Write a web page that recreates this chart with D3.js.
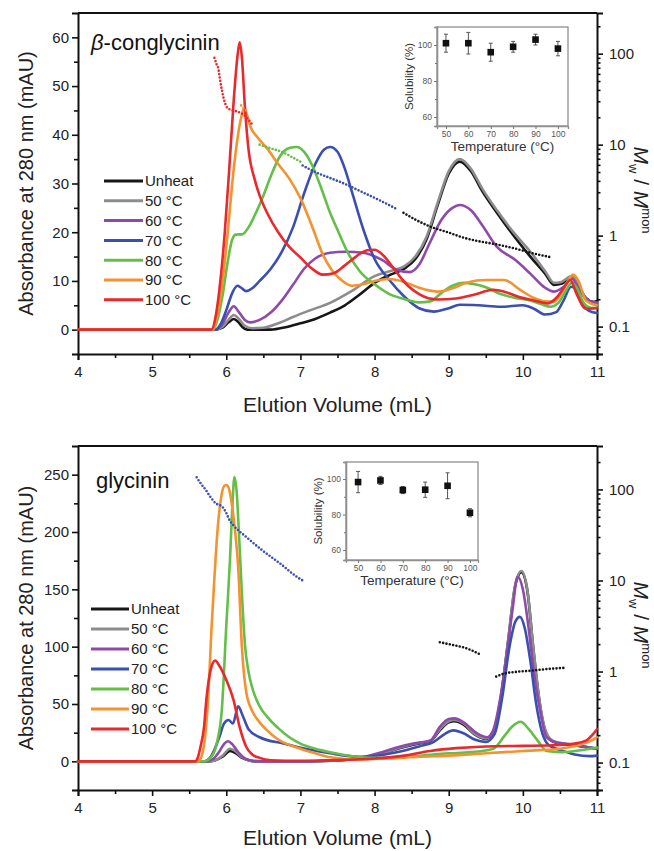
<!DOCTYPE html>
<html><head><meta charset="utf-8">
<script src="https://cdn.jsdelivr.net/npm/d3@7"></script>
<style>
body{margin:0;background:#fff;}
svg{display:block;font-family:"Liberation Sans",Arial,sans-serif;}
</style></head><body>
<svg id="c" width="654" height="851"></svg>
<script>
// ---------- shared ----------
const seriesNames = ["Unheat","50 °C","60 °C","70 °C","80 °C","90 °C","100 °C"];
const seriesColors = ["#161616","#8c8c8c","#8f4aa9","#3b4fb1","#63bf47","#f4922f","#e8292d"];
const xTicks = [4,5,6,7,8,9,10,11];
const xMinorTicks = [4.5,5.5,6.5,7.5,8.5,9.5,10.5];
const rTicks = [0.1,1,10,100];
const inletTemps = [50,60,70,80,90,100];

// ---------- beta-conglycinin (top) ----------
const topUnheat = [[4,0],[5.85,0],[5.95,0.4],[6.03,1.5],[6.1,2.2],[6.16,1.6],[6.22,0.5],[6.28,0],[6.6,0],[6.8,0.5],[7.0,1.3],[7.2,2.2],[7.4,3.5],[7.6,5],[7.8,7.2],[8.0,9.6],[8.2,11.2],[8.4,12.5],[8.55,14.5],[8.7,18.5],[8.85,25.5],[9.0,32],[9.15,34.5],[9.3,32.5],[9.45,28.5],[9.65,24],[9.9,18.8],[10.1,15],[10.3,11.5],[10.42,9.2],[10.52,9.4],[10.66,10.9],[10.75,9],[10.85,6.5],[10.95,5.7],[11,5.9]];
const top50 = [[4,0],[5.85,0],[5.95,0.6],[6.03,2],[6.1,3],[6.17,2.2],[6.25,0.8],[6.35,0.3],[6.5,0.4],[6.7,1.3],[6.9,2.6],[7.1,3.8],[7.4,5.5],[7.7,8],[8.0,11],[8.2,12],[8.4,13],[8.55,15],[8.7,19],[8.85,26],[9.0,32.5],[9.15,35],[9.3,33],[9.45,29],[9.65,24.5],[9.9,19.5],[10.1,16],[10.3,12],[10.42,9.6],[10.52,9.8],[10.66,11],[10.75,9],[10.85,6.5],[10.95,5.5],[11,5.5]];
const top60 = [[4,0],[5.85,0],[5.95,1.2],[6.03,3.5],[6.1,4.8],[6.17,3.6],[6.25,2],[6.32,1.5],[6.45,2],[6.6,3.5],[6.75,6],[6.9,9.2],[7.05,12.5],[7.2,14.6],[7.4,15.8],[7.6,16],[7.85,15.8],[8.1,14.3],[8.3,12.3],[8.48,11.8],[8.6,13.3],[8.75,18],[8.9,22.5],[9.05,25],[9.15,25.6],[9.3,24.5],[9.45,21.5],[9.65,17],[9.9,14.3],[10.1,11.5],[10.3,8.6],[10.42,7.8],[10.55,8.8],[10.66,10.5],[10.75,8.5],[10.85,6.3],[11,5.5]];
const top70 = [[4,0],[5.85,0],[5.92,1],[6.0,4],[6.08,7.5],[6.15,9],[6.2,8.6],[6.27,7.9],[6.35,8.5],[6.45,10],[6.6,12.5],[6.75,16],[6.9,21],[7.05,28],[7.2,34],[7.32,37],[7.4,37.5],[7.5,36.5],[7.6,33],[7.7,28],[7.85,20.5],[8.0,14.5],[8.2,10.2],[8.4,6.8],[8.6,4.4],[8.8,3.7],[9.0,4.4],[9.15,5.1],[9.4,5.0],[9.7,4.7],[10.0,5.0],[10.15,4.3],[10.3,3.1],[10.45,3.6],[10.55,6],[10.65,8.8],[10.72,8.2],[10.8,5.5],[10.9,3.8],[11,3.4]];
const top80 = [[4,0],[5.82,0],[5.88,2],[5.95,7],[6.02,14],[6.08,18.5],[6.13,19.5],[6.22,19.6],[6.3,21],[6.4,24],[6.5,27.5],[6.6,31.5],[6.72,35.5],[6.85,37.3],[6.95,37.5],[7.05,36.5],[7.15,34],[7.27,29.5],[7.4,24],[7.5,20.5],[7.65,15.5],[7.8,12],[8.0,9.3],[8.2,7.3],[8.4,6.3],[8.6,5.6],[8.75,5.8],[8.9,7.5],[9.05,9],[9.2,9.6],[9.35,9.3],[9.5,8.7],[9.7,7.3],[9.9,6.5],[10.1,6],[10.25,5.2],[10.37,4.7],[10.48,5.5],[10.58,8],[10.66,9.6],[10.73,8.5],[10.82,5.5],[10.92,4.5],[11,4.5]];
const top90 = [[4,0],[5.82,0],[5.88,3],[5.95,10],[6.02,20],[6.08,30],[6.14,38],[6.2,43.5],[6.24,45.5],[6.28,44],[6.33,41.5],[6.42,39.5],[6.55,37.2],[6.7,34],[6.85,31],[7.0,27],[7.15,21.5],[7.3,15.5],[7.42,12.3],[7.55,10.2],[7.7,9],[7.85,9.3],[8.0,10],[8.2,10.4],[8.4,9.8],[8.6,8.6],[8.85,7.8],[9.05,8.5],[9.25,9.7],[9.5,10.2],[9.75,10.2],[9.95,8.3],[10.15,6.5],[10.3,5.8],[10.42,5.7],[10.52,7.5],[10.62,10.3],[10.68,11.3],[10.75,10],[10.85,6],[11,5]];
const top100 = [[4,0],[5.8,0],[5.86,3],[5.92,10],[5.98,20],[6.04,33],[6.1,47],[6.15,56],[6.18,59],[6.21,56],[6.25,46],[6.3,37],[6.38,31],[6.45,27.5],[6.55,24],[6.7,20],[6.85,17],[7.0,14.8],[7.15,12.6],[7.3,11.3],[7.45,11.6],[7.6,13.2],[7.75,15],[7.9,16.3],[8.0,16.4],[8.1,15.5],[8.3,11.7],[8.45,9],[8.6,7.3],[8.85,6.2],[9.1,6.4],[9.35,7.2],[9.6,8.2],[9.75,7.8],[9.95,6.7],[10.15,6],[10.33,5.4],[10.45,6.5],[10.55,8.5],[10.64,10.2],[10.72,7.5],[10.85,4.3],[11,4.4]];
// Mw / Mmon (right log axis), dotted
const topMassRed = [[5.84,90],[5.87,76],[5.89,70],[5.915,52],[5.94,40],[5.97,31],[6.0,26.5],[6.05,24.3],[6.14,23.2],[6.23,21.4],[6.3,18.8],[6.36,16.2]];
const topMassOrange = [[6.2,27],[6.24,25],[6.28,23]];
const topMassGreen = [[6.45,10],[6.6,9.1],[6.77,8.2],[6.9,7.2],[7.03,6.3]];
const topMassBlue = [[7.03,5.9],[7.2,5.0],[7.4,4.3],[7.6,3.7],[7.8,3.1],[8.0,2.6],[8.28,2.0]];
const topMassBlack = [[8.39,1.78],[8.55,1.5],[8.75,1.26],[9.0,1.08],[9.2,0.95],[9.4,0.87],[9.65,0.8],[9.9,0.72],[10.1,0.65],[10.25,0.61],[10.39,0.575]];
// inset solubility
const topSol = [101,101,96,99,103,98];
const topSolErr = [5,6,5,3,3,4];

// ---------- glycinin (bottom) ----------
const botUnheat = [[4,0],[5.75,0],[5.85,1],[5.95,4],[6.05,9],[6.12,7.5],[6.2,3.5],[6.3,1],[6.4,0],[7.0,0],[7.4,0.5],[7.8,2.5],[8.1,7],[8.4,12.5],[8.6,15.5],[8.75,17.5],[8.88,27],[9.0,34],[9.08,35],[9.2,32],[9.35,23.5],[9.5,19.5],[9.6,25],[9.7,54],[9.8,104],[9.9,154],[9.98,165],[10.06,149],[10.14,99],[10.22,54],[10.3,27],[10.4,17.5],[10.55,15],[10.75,13.5],[10.9,12],[11,11]];
const bot50 = [[4,0],[5.75,0],[5.85,1],[5.95,5],[6.05,11],[6.12,9],[6.2,4],[6.3,1],[6.4,0],[7.0,0],[7.4,0.5],[7.8,2.5],[8.1,7],[8.4,13],[8.6,16],[8.75,18],[8.88,28],[9.0,35],[9.08,36],[9.2,33],[9.35,24],[9.5,20],[9.6,26],[9.7,55],[9.8,105],[9.9,155],[9.98,166],[10.06,150],[10.14,100],[10.22,55],[10.3,28],[10.4,18],[10.55,15.5],[10.75,14],[10.9,12],[11,11]];
const bot60 = [[4,0],[5.72,0],[5.82,2],[5.9,8],[5.97,15],[6.02,17.5],[6.08,15],[6.16,8],[6.25,2.5],[6.35,0.5],[6.5,0],[7.0,0],[7.4,0.5],[7.84,3.5],[8.1,8],[8.3,12],[8.52,15.5],[8.75,18],[8.88,30],[9.0,37],[9.08,37.5],[9.2,34],[9.38,24.5],[9.52,21],[9.6,27],[9.69,53],[9.79,97],[9.86,132],[9.93,161],[10.0,150],[10.08,115],[10.14,82],[10.23,45],[10.32,21],[10.45,16.5],[10.55,15.5],[10.75,14],[10.9,12],[11,11]];
const bot70 = [[4,0],[5.7,0],[5.8,5],[5.9,20],[5.97,33],[6.03,36],[6.09,33],[6.16,48],[6.22,40],[6.3,28],[6.45,21],[6.77,15.5],[7.1,10.5],[7.4,7],[7.8,4],[8.3,8],[8.6,13],[8.8,17],[8.95,24],[9.06,27],[9.2,24.5],[9.35,19],[9.5,17],[9.62,24],[9.72,55],[9.82,100],[9.9,122],[9.96,126],[10.03,115],[10.1,88],[10.18,50],[10.26,25],[10.35,14],[10.5,10],[10.7,6],[10.9,4.5],[11,5]];
const bot80 = [[4,0],[5.7,0],[5.8,4],[5.88,18],[5.94,45],[6.0,118],[6.05,176],[6.08,220],[6.11,248],[6.14,235],[6.17,200],[6.21,147],[6.25,103],[6.3,78],[6.36,62],[6.45,48],[6.55,39],[6.7,29],[6.85,21],[7.0,15.5],[7.2,11],[7.4,8],[7.7,4.5],[8.0,3],[8.5,4.5],[9.0,7],[9.3,8],[9.6,11],[9.75,22],[9.85,30],[9.97,34.5],[10.08,28],[10.2,18],[10.32,9],[10.5,8],[10.7,9],[11,12]];
const bot90 = [[4,0],[5.62,0],[5.67,5],[5.72,25],[5.76,60],[5.8,115],[5.84,160],[5.88,200],[5.93,230],[5.97,240],[6.0,241],[6.04,237],[6.08,222],[6.12,200],[6.16,170],[6.21,100],[6.27,60],[6.35,44],[6.45,34],[6.55,27],[6.7,19],[7.0,11],[7.2,7],[7.4,3.5],[7.8,1.5],[8.2,2.5],[8.6,4],[9.0,5],[9.5,7],[10.0,9],[10.5,11],[10.8,15],[10.95,19],[11,21]];
const bot100 = [[4,0],[5.58,0],[5.62,4],[5.65,12],[5.7,30],[5.73,53],[5.78,77],[5.82,86],[5.85,88],[5.9,84],[6.0,71],[6.1,53],[6.18,30],[6.27,12.5],[6.35,6],[6.45,3],[6.6,1],[7.0,0.5],[7.4,1],[8.0,2.5],[8.4,5],[8.75,9],[9.1,11.5],[9.5,13],[10.0,13.5],[10.4,14],[10.7,15.5],[10.85,18],[10.95,24],[11,28]];
const botMassBlue = [[5.6,136],[5.66,115],[5.73,97],[5.78,84],[5.82,76],[5.86,70],[5.9,68],[5.95,64],[6.0,55],[6.05,45],[6.1,40],[6.27,30],[6.5,21],[6.72,15.5],[6.95,11],[7.03,10]];
const botMassBlack1 = [[8.88,2.1],[9.0,2.0],[9.1,1.92],[9.2,1.84],[9.3,1.72],[9.42,1.55]];
const botMassBlack2 = [[9.64,0.88],[9.75,0.95],[9.9,0.99],[10.1,1.02],[10.3,1.06],[10.57,1.1]];
const botSol = [98.3,99.2,93.8,94,96.2,81];
const botSolErr = [6,2.3,2,4.3,7.3,2.3];

// ---------- drawing ----------
const svg = d3.select("#c");
const FONT = '"Liberation Sans",Arial,sans-serif';

function styleAxis(g, w){
  g.select(".domain").attr("stroke","#111").attr("stroke-width",w||2);
  g.selectAll(".tick line").attr("stroke","#111").attr("stroke-width",1.6);
  g.selectAll(".tick text").attr("fill","#222").style("font-size","15px").style("font-family",FONT);
}

function drawPanel(cfg){
  const L=78, R=597;
  const x = d3.scaleLinear().domain([4,11]).range([L,R]);
  const y = d3.scaleLinear().domain(cfg.yDomain).range([cfg.bottom,cfg.top]);
  const yr = d3.scaleLog().domain(cfg.rDomain).range([cfg.bottom,cfg.top]);
  const g = svg.append("g");

  // top frame line
  g.append("line").attr("x1",L).attr("x2",R).attr("y1",cfg.top).attr("y2",cfg.top)
    .attr("stroke","#111").attr("stroke-width",2);

  // bottom axis
  const gx = g.append("g").attr("transform",`translate(0,${cfg.bottom})`)
    .call(d3.axisBottom(x).tickValues(xTicks).tickSize(6).tickPadding(6).tickFormat(d3.format("d")));
  styleAxis(gx);
  const gxm = g.append("g").attr("transform",`translate(0,${cfg.bottom})`)
    .call(d3.axisBottom(x).tickValues(xMinorTicks).tickSize(4).tickFormat(""));
  gxm.select(".domain").remove(); styleAxis(gxm);

  // left axis
  const gy = g.append("g").attr("transform",`translate(${L},0)`)
    .call(d3.axisLeft(y).tickValues(cfg.yTicks).tickSize(6).tickPadding(3).tickFormat(d3.format("d")));
  styleAxis(gy);
  const gym = g.append("g").attr("transform",`translate(${L},0)`)
    .call(d3.axisLeft(y).tickValues(cfg.yMinor).tickSize(4).tickFormat(""));
  gym.select(".domain").remove(); styleAxis(gym);

  // right log axis
  const gr = g.append("g").attr("transform",`translate(${R},0)`)
    .call(d3.axisRight(yr).tickValues(rTicks).tickSize(6).tickPadding(6).tickFormat(d=>String(d)));
  styleAxis(gr);
  const rMinor = [];
  [0.01,0.1,1,10,100].forEach(dec=>{ for(let k=2;k<=9;k++){ const v=dec*k; if(v>cfg.rDomain[0]*0.999 && v<cfg.rDomain[1]) rMinor.push(v);} });
  const grm = g.append("g").attr("transform",`translate(${R},0)`)
    .call(d3.axisRight(yr).tickValues(rMinor).tickSize(3.5).tickFormat(""));
  grm.select(".domain").remove(); styleAxis(grm);

  // curves
  const line = d3.line().x(d=>x(d[0])).y(d=>y(d[1])).curve(d3.curveMonotoneX);
  cfg.curves.forEach((c,i)=>{
    g.append("path").datum(c).attr("d",line).attr("fill","none")
      .attr("stroke",seriesColors[i]).attr("stroke-width",2.6)
      .attr("stroke-linejoin","round").attr("stroke-linecap","round");
  });

  // dotted Mw/Mmon
  const dline = d3.line().x(d=>x(d[0])).y(d=>yr(d[1])).curve(d3.curveMonotoneX);
  cfg.mass.forEach(m=>{
    g.append("path").datum(m.data).attr("d",dline).attr("fill","none")
      .attr("stroke",m.color).attr("stroke-width",2.6).attr("stroke-linecap","round")
      .attr("stroke-dasharray","0,3.4");
  });

  // title
  const t = g.append("text").attr("x",cfg.titleX).attr("y",cfg.titleY)
    .style("font-size","22px").style("font-family",FONT).attr("fill","#111");
  cfg.title.forEach(p=>t.append("tspan").text(p.t).style("font-style",p.it?"italic":"normal"));

  // legend
  seriesNames.forEach((n,i)=>{
    const ly = cfg.legY + i*cfg.legDy;
    g.append("line").attr("x1",cfg.legX1).attr("x2",cfg.legX2).attr("y1",ly).attr("y2",ly)
      .attr("stroke",seriesColors[i]).attr("stroke-width",3);
    g.append("text").attr("x",cfg.legX2+2).attr("y",ly).attr("dy","0.36em")
      .style("font-size","15px").style("font-family",FONT).attr("fill","#222").text(n);
  });

  // axis titles
  g.append("text").attr("transform",`translate(33,${(cfg.top+cfg.bottom)/2}) rotate(-90)`)
    .attr("text-anchor","middle").style("font-size","20px").style("font-family",FONT)
    .attr("fill","#222").text("Absorbance at 280 nm (mAU)");
  g.append("text").attr("x",(L+R)/2).attr("y",cfg.xTitleY).attr("text-anchor","middle")
    .style("font-size","21px").style("font-family",FONT).attr("fill","#222").text("Elution Volume (mL)");
  const rt = g.append("text").attr("transform",`translate(634,${cfg.rLabelY}) rotate(90)`)
    .attr("text-anchor","middle").style("font-size","21px").style("font-family",FONT).attr("fill","#222");
  rt.append("tspan").text("M").style("font-style","italic");
  rt.append("tspan").text("w").attr("dy",5).style("font-size","13px");
  rt.append("tspan").text(" / ").attr("dy",-5);
  rt.append("tspan").text("M").style("font-style","italic");
  rt.append("tspan").text("mon").attr("dy",-8).style("font-size","13px");

  // inset
  const ins = cfg.inset;
  const ix = d3.scaleLinear().domain(ins.xDomain).range([ins.x0,ins.x1]);
  const iy = d3.scaleLinear().domain(ins.yDomain).range([ins.y1,ins.y0]);
  const ig = g.append("g");
  ig.append("rect").attr("x",ins.x0).attr("y",ins.y0).attr("width",ins.x1-ins.x0).attr("height",ins.y1-ins.y0)
    .attr("fill","#fff").attr("stroke","#8f8f8f").attr("stroke-width",1.3);
  const iax = ig.append("g").attr("transform",`translate(0,${ins.y1})`)
    .call(d3.axisBottom(ix).tickValues(inletTemps).tickSize(3).tickPadding(2));
  const iay = ig.append("g").attr("transform",`translate(${ins.x0},0)`)
    .call(d3.axisLeft(iy).tickValues([60,80,100]).tickSize(3).tickPadding(2));
  const iaym = ig.append("g").attr("transform",`translate(${ins.x0},0)`)
    .call(d3.axisLeft(iy).tickValues([70,90]).tickSize(2).tickFormat(""));
  [iax,iay,iaym].forEach(a=>{
    a.select(".domain").attr("stroke","#8f8f8f").attr("stroke-width",1.3);
    a.selectAll(".tick line").attr("stroke","#777");
    a.selectAll(".tick text").attr("fill","#555").style("font-size","8.5px").style("font-family",FONT);
  });
  inletTemps.forEach((tv,i)=>{
    const cx = ix(tv), v = ins.vals[i], e = ins.errs[i];
    ig.append("line").attr("x1",cx).attr("x2",cx).attr("y1",iy(v-e)).attr("y2",iy(v+e))
      .attr("stroke","#555").attr("stroke-width",1);
    [v-e,v+e].forEach(ev=>ig.append("line").attr("x1",cx-2).attr("x2",cx+2).attr("y1",iy(ev)).attr("y2",iy(ev))
      .attr("stroke","#555").attr("stroke-width",1));
    ig.append("rect").attr("x",cx-3.3).attr("y",iy(v)-3.3).attr("width",6.6).attr("height",6.6).attr("fill","#111");
  });
  ig.append("text").attr("transform",`translate(${ins.x0-24},${(ins.y0+ins.y1)/2}) rotate(-90)`)
    .attr("text-anchor","middle").style("font-size","11.5px").style("font-family",FONT).attr("fill","#333")
    .text("Solubility (%)");
  ig.append("text").attr("x",(ins.x0+ins.x1)/2).attr("y",ins.y1+25).attr("text-anchor","middle")
    .style("font-size","13.5px").style("font-family",FONT).attr("fill","#333").text("Temperature (°C)");
}

drawPanel({
  top:13, bottom:354, yDomain:[-5,65], yTicks:[0,10,20,30,40,50,60], yMinor:[5,15,25,35,45,55],
  rDomain:[0.05,280],
  curves:[topUnheat,top50,top60,top70,top80,top90,top100],
  mass:[{data:topMassRed,color:"#e8292d"},{data:topMassOrange,color:"#f4922f"},{data:topMassGreen,color:"#63bf47"},
        {data:topMassBlue,color:"#3b4fb1"},{data:topMassBlack,color:"#161616"}],
  title:[{t:"β",it:true},{t:"-conglycinin"}], titleX:91, titleY:50,
  legY:181, legDy:19.8, legX1:104, legX2:143,
  xTitleY:412, rLabelY:190,
  inset:{x0:437,x1:568,y0:27,y1:126,xDomain:[46,104.5],yDomain:[55,110],vals:topSol,errs:topSolErr}
});
drawPanel({
  top:446, bottom:790, yDomain:[-25,275], yTicks:[0,50,100,150,200,250], yMinor:[25,75,125,175,225],
  rDomain:[0.05,300],
  curves:[botUnheat,bot50,bot60,bot70,bot80,bot90,bot100],
  mass:[{data:botMassBlue,color:"#3b4fb1"},{data:botMassBlack1,color:"#161616"},{data:botMassBlack2,color:"#161616"}],
  title:[{t:"glycinin"}], titleX:96, titleY:488,
  legY:609, legDy:20, legX1:91, legX2:129,
  xTitleY:845, rLabelY:625,
  inset:{x0:346,x1:478,y0:462,y1:560,xDomain:[44.6,103.6],yDomain:[54.4,109.6],vals:botSol,errs:botSolErr}
});
</script>
</body></html>
